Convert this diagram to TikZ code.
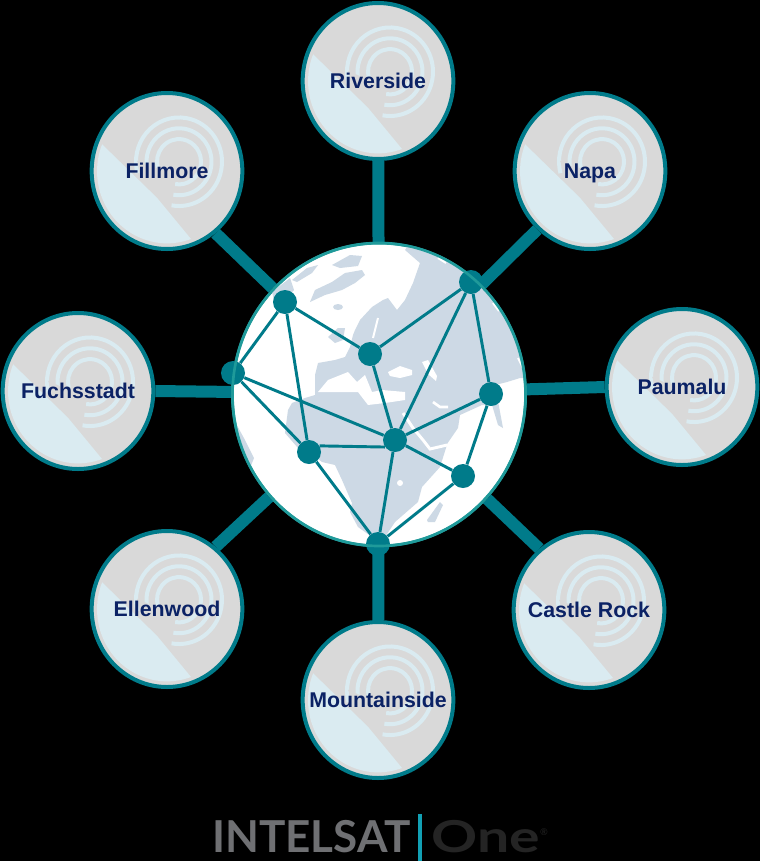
\documentclass[tikz,border=0pt]{standalone}
\usepackage{fontspec}
\usetikzlibrary{shapes.geometric}
\setmainfont{Liberation Sans}
\newfontfamily\logofont{Lato}
\definecolor{linkteal}{HTML}{007B8A}
\definecolor{rimteal}{HTML}{1F9A9A}
\definecolor{landblue}{HTML}{CDD9E5}
\definecolor{dishgrey}{HTML}{D9D9D9}
\definecolor{dishlight}{HTML}{DAEBF1}
\definecolor{labelnavy}{HTML}{0B2265}
\definecolor{logogrey}{HTML}{6F7073}
\definecolor{logodark}{HTML}{242424}
\definecolor{logobar}{HTML}{12A0B4}
\tikzset{
  station/.style={ellipse,draw=linkteal,line width=3pt,minimum width=113pt,minimum height=117pt,inner sep=0pt,
    text=labelnavy,font=\fontsize{16}{18}\selectfont\bfseries,text height=11.5pt,text depth=0pt},
  hub/.style={circle,fill=linkteal,minimum size=18pt,inner sep=0pt},
  stub/.style={draw=linkteal,line width=9pt},
  mesh/.style={draw=linkteal,line width=2.2pt},
  globerim/.style={draw=rimteal,line width=2pt}
}
\begin{document}
\begin{tikzpicture}[x=.75pt,y=-.75pt]
  \fill[black] (0,0) rectangle (760,861);
  \useasboundingbox (0,0) rectangle (760,861);

  \node[ellipse,globerim,fill=white,minimum width=220pt,minimum height=227pt,inner sep=0pt] (globe) at (379,394.5) {};

  \begin{scope}
    \clip (379,394.5) ellipse[x radius=146.5,y radius=151.5];
    \fill[landblue] (315,385) -- (315,375) -- (318,363) -- (335,360) -- (345,357) -- (350,347) -- (353,335)
      -- (355,330) -- (360,320) -- (372,307) -- (383,300) -- (388,298) -- (397,310) -- (405,300) -- (413,283)
      -- (420,263) -- (405,250) -- (415,235) -- (550,235) -- (550,380) -- (520,378) -- (507,382) -- (495,385)
      -- (503,428) -- (498,425) -- (492,405) -- (482,405) -- (460,415) -- (458,428) -- (447,444) -- (446,448)
      -- (440,467) -- (422,487) -- (418,502) -- (395,522) -- (385,537) -- (372,537) -- (358,527) -- (350,512)
      -- (352,503) -- (342,480) -- (335,465) -- (322,462) -- (310,452) -- (298,448) -- (285,433) -- (288,410)
      -- (292,403) -- (305,398) -- (315,395) -- cycle;
    \fill[landblue] (310,302) -- (315,290) -- (332,282) -- (345,273) -- (362,270) -- (365,275) -- (355,283)
      -- (342,290) -- (325,295) -- cycle;
    \fill[landblue] (292,280) -- (307,268) -- (318,265) -- (312,273) -- (297,282) -- cycle;
    \fill[landblue] (332,265) -- (350,255) -- (362,256) -- (358,266) -- (340,268) -- cycle;
    \fill[landblue] (272,292) -- (290,278) -- (294,290) -- (276,308) -- cycle;
    \fill[landblue] (338,307) ellipse[x radius=5,y radius=3];
    \fill[landblue] (328,337) -- (338,328) -- (345,328) -- (343,340) -- (335,343) -- cycle;
    \fill[landblue] (427,520) -- (440,502) -- (443,505) -- (435,522) -- (428,522) -- cycle;
    \fill[landblue] (234,420) -- (245,440) -- (254,458) -- (250,468) -- (228,460) -- cycle;
    \fill[white] (318,392) -- (328,380) -- (348,372) -- (357,382) -- (365,375) -- (372,392) -- (382,390)
      -- (405,392) -- (405,400) -- (385,403) -- (368,405) -- (358,392) -- (335,392) -- cycle;
    \fill[white] (388,372) -- (396,368) -- (400,366) -- (412,370) -- (412,375) -- (400,378) -- (390,376) -- cycle;
    \fill[white] (422,362) -- (428,360) -- (437,376) -- (436,381) -- (428,374) -- cycle;
    \fill[white] (400,483) circle[radius=3];
    \draw[white,line width=2.2pt] (403,413) -- (413,428) -- (423,440) -- (430,449) -- (447,445);
    \draw[white,line width=2pt] (433,402) -- (440,407) -- (448,407);
    \draw[white,line width=1.5pt] (378,318) -- (373,338);
    \draw[white,line width=1.5pt] (493,303) -- (499,311);
    \draw[white,line width=1.5pt] (518,358) -- (523,368);
    \draw[white,line width=1.5pt] (438,258) -- (446,263);
  \end{scope}

  \foreach \cx/\cy in {378/81,167/171,590/171,78/391,682/387,167/609,589/610,378/700} {
    \begin{scope}[shift={(\cx,\cy)},y=.75pt,yscale=1.03]
      \fill[dishgrey] (0,0) circle[radius=76];
      \foreach \ringrad in {43,32.5,22}
        \draw[dishlight,line width=3pt] (12,9) ++(-100:\ringrad) arc[start angle=-100,end angle=195,radius=\ringrad];
      \fill[dishgrey] (-14,-28) -- (4,-5) -- (-30,10) -- cycle;
      \fill[dishlight] (-65,26) -- (-10,-26) -- (24,-66) arc[start angle=-70,end angle=-202,radius=70] -- cycle;
    \end{scope}
  }

  \begin{scope}[every node/.style={station}]
    \node (riverside)    at (378,81)  {\makebox[0pt]{Riverside}};
    \node (fillmore)     at (167,171) {\makebox[0pt]{Fillmore}};
    \node (napa)         at (590,171) {\makebox[0pt]{Napa}};
    \node (fuchsstadt)   at (78,391)  {\makebox[0pt]{Fuchsstadt}};
    \node (paumalu)      at (682,387) {\makebox[0pt]{Paumalu}};
    \node (ellenwood)    at (167,609) {\makebox[0pt]{Ellenwood}};
    \node (castlerock)   at (589,610) {\makebox[0pt]{Castle Rock}};
    \node (mountainside) at (378,700) {\makebox[0pt]{Mountainside}};
  \end{scope}

  \begin{scope}[every edge/.style={stub}]
    \path (riverside)     edge (globe);
    \path (fillmore.-52)  edge (globe.135);
    \path (napa.-132)     edge (globe.47);
    \path (fuchsstadt.east) edge (globe.179);
    \path (paumalu.west)  edge (globe.2);
    \path (ellenwood.52)  edge (globe.223);
    \path (castlerock.129) edge (globe.-44);
    \path (mountainside)  edge (globe);
  \end{scope}

  \begin{scope}[every node/.style={hub}]
    \node (hubnw)  at (285,302) {};
    \node (hubeu)  at (370,354) {};
    \node (hubne)  at (471,282) {};
    \node (hubas)  at (491,394) {};
    \node (hubat)  at (233,373) {};
    \node (hubaf)  at (309,452) {};
    \node (hubmid) at (395,440) {};
    \node (hubio)  at (463,476) {};
    \node (hubsth) at (378,544) {};
  \end{scope}

  \begin{scope}[every edge/.style={mesh}]
    \path (hubat)  edge (hubnw);
    \path (hubnw)  edge (hubeu);
    \path (hubnw)  edge (hubaf);
    \path (hubeu)  edge (hubne);
    \path (hubeu)  edge (hubmid);
    \path (hubne)  edge (hubmid);
    \path (hubne)  edge (hubas);
    \path (hubas)  edge (hubmid);
    \path (hubas)  edge (hubio);
    \path (hubat)  edge (hubmid);
    \path (hubat)  edge (hubaf);
    \path (hubaf.30) edge (hubmid.215);
    \path (hubaf)  edge (hubsth);
    \path (hubmid) edge (hubsth);
    \path (hubmid) edge (hubio);
    \path (hubio)  edge (hubsth);
  \end{scope}

  \draw[globerim] (379,394.5) ellipse[x radius=146.5,y radius=151.5];

  \node[anchor=base west,inner sep=0pt,text=logogrey,font=\logofont\fontsize{33}{35}\selectfont\bfseries] (logoleft) at (212,852) {INTELSAT};
  \node[anchor=base west,inner sep=0pt,text=logodark,font=\logofont\fontsize{33}{35}\selectfont\bfseries] (logoright) at (431,852) {\scalebox{1.3}[1]{One}};
  \node[anchor=center,inner sep=0pt,text=logodark,font=\logofont\fontsize{7}{8}\selectfont] (logomark) at (544,832) {®};
  \coordinate (bartop) at (420,814);
  \coordinate (barbot) at (420,861);
  \draw[logobar,line width=2.5pt] (bartop) -- (barbot);
\end{tikzpicture}
\end{document}
